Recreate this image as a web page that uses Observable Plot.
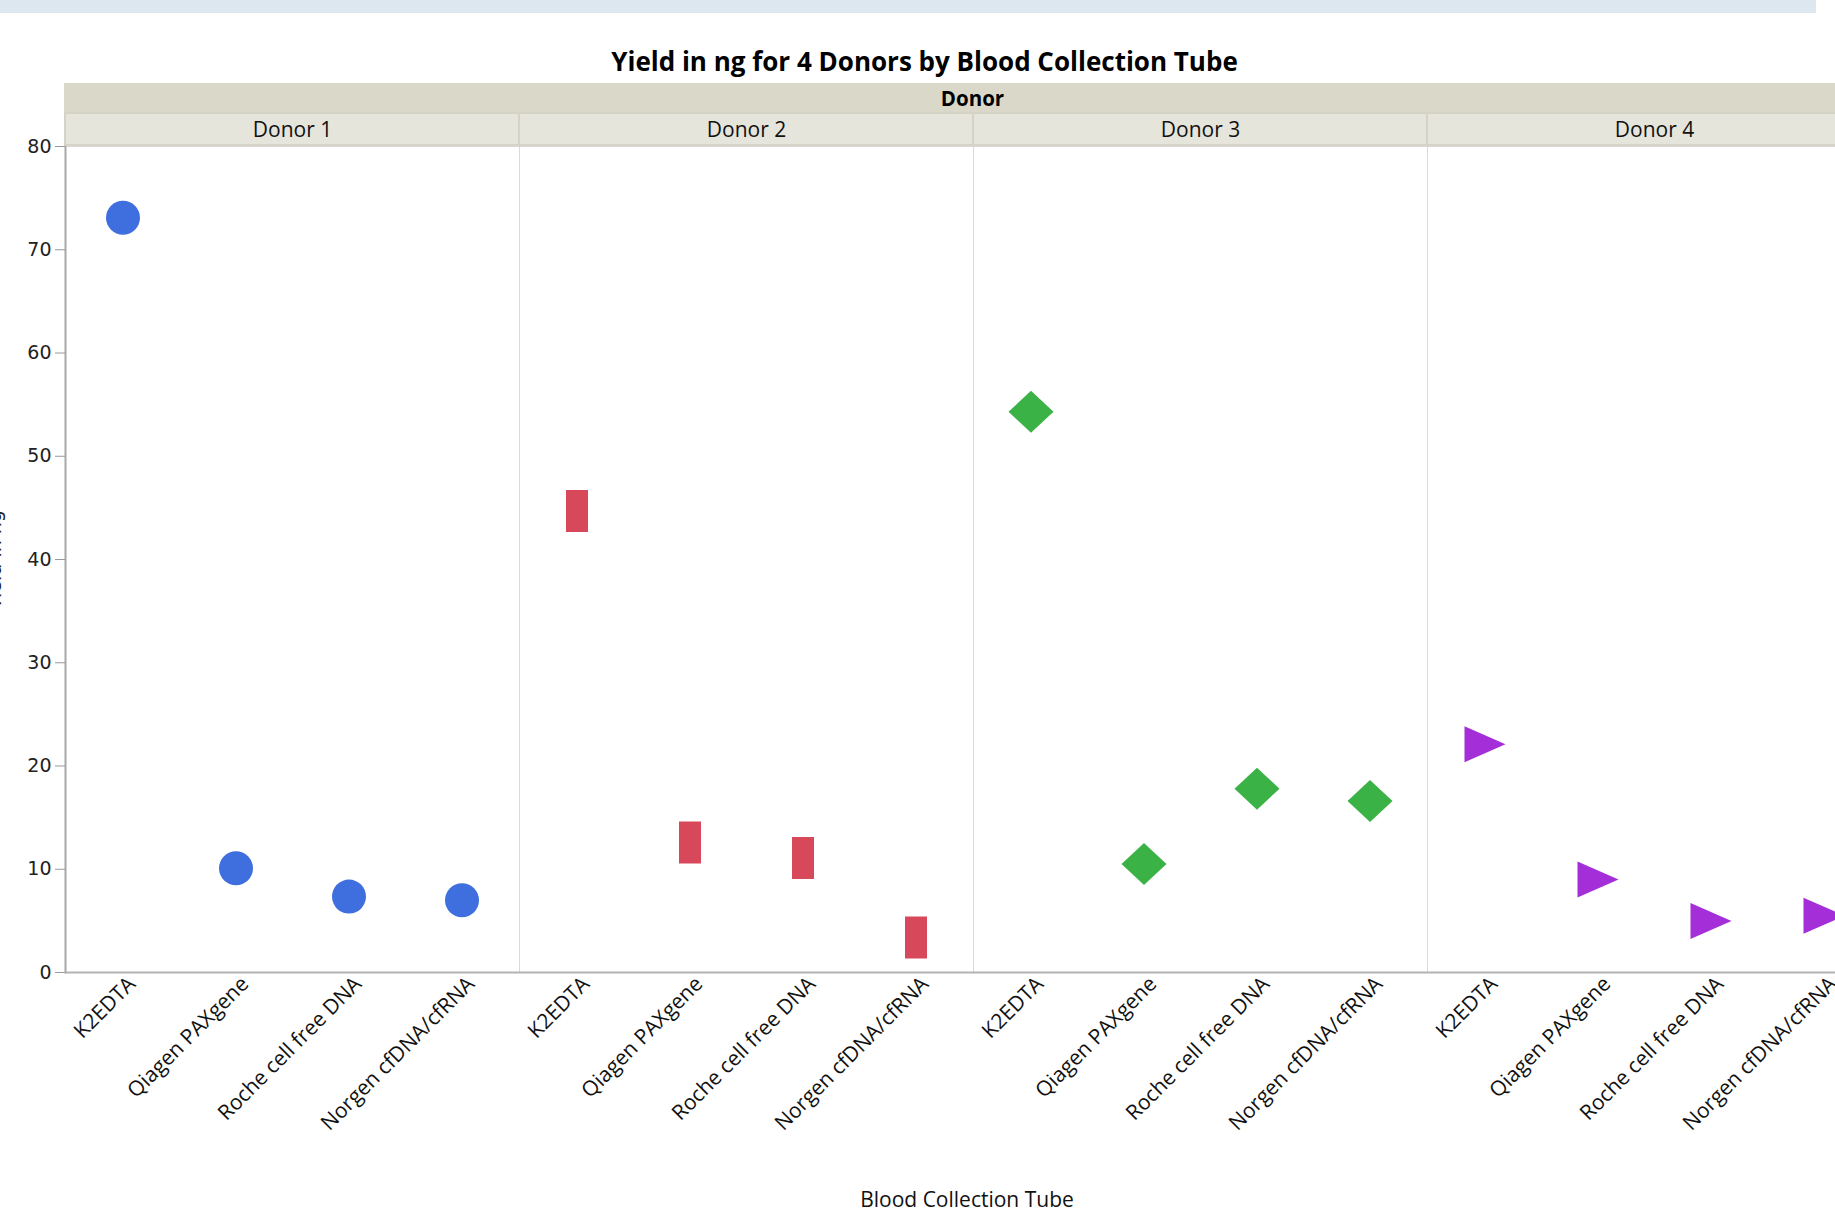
<!DOCTYPE html>
<html>
<head>
<meta charset="utf-8">
<script src="https://cdn.jsdelivr.net/npm/d3@7"></script>
<script src="https://cdn.jsdelivr.net/npm/@observablehq/plot@0.6"></script>
<style>
  html, body { margin: 0; padding: 0; background: #fff; overflow: hidden; width: 1835px; height: 1213px; }
  body { position: relative; font-family: "Open Sans", sans-serif; color: #000; }
  #main { position: absolute; left: 0; top: 0; }
  #banner { position: absolute; left: 0; top: 0; width: 1816px; height: 13px; background: #dde7f0; }
  #title { position: absolute; left: 0; top: 45px; width: 1849px; text-align: center; font-weight: bold; font-size: 26px; line-height: 32px; }
  #strip { position: absolute; left: 64px; top: 83px; width: 1817px; height: 30px; background: #dad8c9; text-align: center; font-weight: bold; font-size: 20.5px; line-height: 30px; }
  #sub { position: absolute; left: 0; top: 113px; }
  #xlabel { position: absolute; left: 0; top: 1185px; width: 1934px; text-align: center; font-size: 21px; line-height: 29px; color: #111; }
</style>
</head>
<body>
<div id="main"></div>
<div id="banner"></div>
<div id="title">Yield in ng for 4 Donors by Blood Collection Tube</div>
<div id="strip">Donor</div>
<div id="sub"></div>
<div id="xlabel">Blood Collection Tube</div>
<script>
// ---- data ----
const donors = ["Donor 1", "Donor 2", "Donor 3", "Donor 4"];
const tubes = ["K2EDTA", "Qiagen PAXgene", "Roche cell free DNA", "Norgen cfDNA/cfRNA"];
const donor1Yield = [73.1, 10.1, 7.35, 7.0];
const donor2Yield = [44.7, 12.6, 11.1, 3.4];
const donor3Yield = [54.3, 10.5, 17.8, 16.6];
const donor4Yield = [22.1, 9.0, 5.0, 5.5];
const yTicks = [0, 10, 20, 30, 40, 50, 60, 70, 80];
const donorColors = ["#3f6fde", "#d6485a", "#3bb246", "#a42fd9"];

const yields = [donor1Yield, donor2Yield, donor3Yield, donor4Yield];
const rows = [];
donors.forEach((d, i) => tubes.forEach((t, j) => rows.push({donor: d, tube: t, value: yields[i][j]})));

// ---- marker shapes (JMP style) ----
const REF = Math.PI * 17 * 17;
const k = (size) => Math.sqrt(size / REF);
const symCircle = d3.symbolCircle;
const symTallRect = { draw(ctx, size) { const s = k(size), w = 22 * s, h = 42 * s; ctx.rect(-w / 2, -h / 2, w, h); } };
const symDiamond = { draw(ctx, size) { const s = k(size), hw = 22.5 * s, hh = 21 * s; ctx.moveTo(0, -hh); ctx.lineTo(hw, 0); ctx.lineTo(0, hh); ctx.lineTo(-hw, 0); ctx.closePath(); } };
const symTriRight = { draw(ctx, size) { const s = k(size), L = 41 * s, b = 36 * s; ctx.moveTo(-L / 2, -b / 2); ctx.lineTo(L / 2, 0); ctx.lineTo(-L / 2, b / 2); ctx.closePath(); } };

const main = Plot.plot({
  width: 1881,
  height: 1213,
  marginLeft: 64,
  marginRight: 0,
  marginTop: 146,
  marginBottom: 241,
  style: { fontFamily: "Open Sans", fontSize: "21px", color: "#111", background: "transparent", maxWidth: "none", overflow: "visible" },
  fx: { domain: donors, padding: 0, axis: null, label: null },
  x: { type: "band", domain: tubes, padding: 0, label: null },
  y: { domain: [0, 80], label: "Yield in ng" },
  symbol: { domain: donors, range: [symCircle, symTallRect, symDiamond, symTriRight] },
  color: { domain: donors, range: donorColors },
  marks: [
    Plot.frame({ stroke: "#d9d9d9", strokeWidth: 1 }),
    Plot.frame({ anchor: "left", facetAnchor: "left", stroke: "#a8a8a8", strokeWidth: 2 }),
    Plot.ruleY([0], { stroke: "#b3b3b3", strokeWidth: 2 }),
    Plot.axisX({ tickRotate: -45, tickSize: 0, tickPadding: 8, dx: 9, fontSize: 21, label: null, fill: "#111" }),
    Plot.axisY({ ticks: yTicks, tickSize: 10, tickPadding: 4, stroke: "#999", fontFamily: "DejaVu Sans", fontSize: 19, fill: "#222",
                 label: "Yield in ng", labelAnchor: "center", labelArrow: "none", labelOffset: 78 }),
    Plot.dot(rows, { fx: "donor", x: "tube", y: "value", symbol: "donor", fill: "donor", r: 17, stroke: "none" })
  ]
});
document.getElementById("main").appendChild(main);

const sub = Plot.plot({
  width: 1881,
  height: 32,
  marginLeft: 64,
  marginRight: 0,
  marginTop: 0,
  marginBottom: 0,
  style: { fontFamily: "Open Sans", fontSize: "21px", color: "#111", background: "transparent", maxWidth: "none", overflow: "visible" },
  x: { domain: donors, padding: 0, axis: null },
  marks: [
    Plot.cell(donors, { x: (d) => d, fill: "#e6e5dc", stroke: "#d5d3c5", strokeWidth: 2, inset: 0 }),
    Plot.text(donors, { x: (d) => d, text: (d) => d, fontSize: 21, fill: "#111", dy: 1 })
  ]
});
document.getElementById("sub").appendChild(sub);
</script>
</body>
</html>
